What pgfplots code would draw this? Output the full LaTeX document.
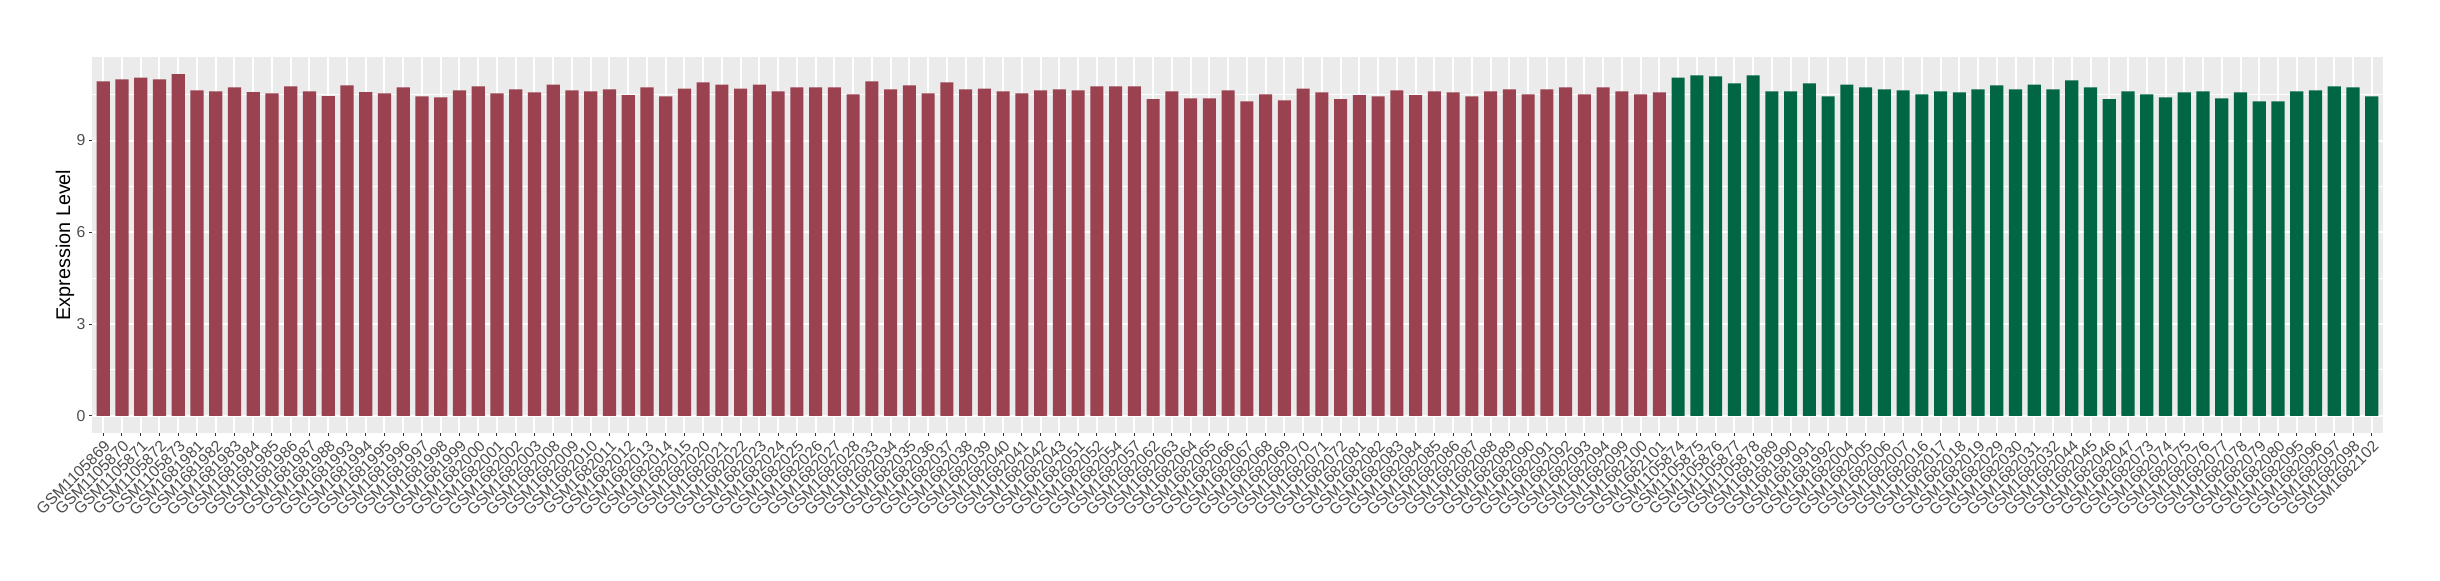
\documentclass[border=0pt]{standalone}
\usepackage{fontspec}
\setmainfont{Liberation Sans}
\usepackage{pgfplots}
\pgfplotsset{compat=1.18}
\definecolor{barred}{RGB}{155,66,81}
\definecolor{bargreen}{RGB}{0,102,68}
\definecolor{panelbg}{RGB}{235,235,235}
\definecolor{grey30}{RGB}{77,77,77}
\definecolor{grey20}{RGB}{51,51,51}
\begin{document}
\begin{tikzpicture}
\begin{axis}[
  at={(0,0)}, anchor=south west,
  scale only axis,
  width=1145.5pt, height=188pt,
  xmin=0.4, xmax=122.6,
  ymin=-0.56, ymax=11.73,
  separate axis lines,
  axis line style={draw=none},
  axis background/.style={fill=panelbg},
  xtick pos=bottom, ytick pos=left,
  xtick={1,...,122},
  xticklabels={GSM1105869,GSM1105870,GSM1105871,GSM1105872,GSM1105873,GSM1681981,GSM1681982,GSM1681983,GSM1681984,GSM1681985,GSM1681986,GSM1681987,GSM1681988,GSM1681993,GSM1681994,GSM1681995,GSM1681996,GSM1681997,GSM1681998,GSM1681999,GSM1682000,GSM1682001,GSM1682002,GSM1682003,GSM1682008,GSM1682009,GSM1682010,GSM1682011,GSM1682012,GSM1682013,GSM1682014,GSM1682015,GSM1682020,GSM1682021,GSM1682022,GSM1682023,GSM1682024,GSM1682025,GSM1682026,GSM1682027,GSM1682028,GSM1682033,GSM1682034,GSM1682035,GSM1682036,GSM1682037,GSM1682038,GSM1682039,GSM1682040,GSM1682041,GSM1682042,GSM1682043,GSM1682051,GSM1682052,GSM1682054,GSM1682057,GSM1682062,GSM1682063,GSM1682064,GSM1682065,GSM1682066,GSM1682067,GSM1682068,GSM1682069,GSM1682070,GSM1682071,GSM1682072,GSM1682081,GSM1682082,GSM1682083,GSM1682084,GSM1682085,GSM1682086,GSM1682087,GSM1682088,GSM1682089,GSM1682090,GSM1682091,GSM1682092,GSM1682093,GSM1682094,GSM1682099,GSM1682100,GSM1682101,GSM1105874,GSM1105875,GSM1105876,GSM1105877,GSM1105878,GSM1681989,GSM1681990,GSM1681991,GSM1681992,GSM1682004,GSM1682005,GSM1682006,GSM1682007,GSM1682016,GSM1682017,GSM1682018,GSM1682019,GSM1682029,GSM1682030,GSM1682031,GSM1682032,GSM1682044,GSM1682045,GSM1682046,GSM1682047,GSM1682073,GSM1682074,GSM1682075,GSM1682076,GSM1682077,GSM1682078,GSM1682079,GSM1682080,GSM1682095,GSM1682096,GSM1682097,GSM1682098,GSM1682102},
  ytick={0,3,6,9},
  minor ytick={1.5,4.5,7.5,10.5},
  xmajorgrids, ymajorgrids, yminorgrids,
  major grid style={white, line width=1pt},
  minor grid style={white, line width=0.5pt},
  tick align=outside,
  major tick length=1.6pt,
  minor tick length=0pt,
  tick style={grey20, line width=0.5pt},
  /pgf/number format/assume math mode=true,
  y tick label style={font=\fontsize{7.9}{9}\selectfont, text=grey30, inner sep=1.5pt},
  x tick label style={font=\fontsize{7.9}{9}\selectfont, text=grey30, rotate=45, anchor=north east, inner sep=1pt},
  ylabel={Expression Level},
  y label style={at={(axis description cs:-0.01178,0.5)}, anchor=center, font=\fontsize{9.9}{11}\selectfont},
  ybar, bar width=0.7, bar shift=0pt,
]
\addplot[ybar, bar width=0.7, bar shift=0pt, fill=barred, draw=none] coordinates {
(1,10.93) (2,11.00) (3,11.06) (4,11.00) (5,11.17) (6,10.64) (7,10.61) (8,10.74) (9,10.58) (10,10.54)
(11,10.77) (12,10.61) (13,10.45) (14,10.80) (15,10.58) (16,10.54) (17,10.74) (18,10.44) (19,10.41) (20,10.64)
(21,10.77) (22,10.54) (23,10.67) (24,10.57) (25,10.83) (26,10.64) (27,10.61) (28,10.67) (29,10.48) (30,10.74)
(31,10.44) (32,10.70) (33,10.90) (34,10.83) (35,10.70) (36,10.83) (37,10.61) (38,10.74) (39,10.74) (40,10.74)
(41,10.51) (42,10.93) (43,10.67) (44,10.80) (45,10.54) (46,10.90) (47,10.67) (48,10.70) (49,10.61) (50,10.54)
(51,10.64) (52,10.67) (53,10.64) (54,10.77) (55,10.77) (56,10.77) (57,10.35) (58,10.61) (59,10.38) (60,10.38)
(61,10.64) (62,10.28) (63,10.51) (64,10.31) (65,10.70) (66,10.57) (67,10.35) (68,10.48) (69,10.44) (70,10.64)
(71,10.48) (72,10.61) (73,10.57) (74,10.44) (75,10.61) (76,10.67) (77,10.51) (78,10.67) (79,10.74) (80,10.51)
(81,10.74) (82,10.61) (83,10.51) (84,10.57)
};
\addplot[ybar, bar width=0.7, bar shift=0pt, fill=bargreen, draw=none] coordinates {
(85,11.06) (86,11.13) (87,11.10) (88,10.87) (89,11.13) (90,10.61) (91,10.61) (92,10.87) (93,10.44) (94,10.83)
(95,10.74) (96,10.67) (97,10.64) (98,10.51) (99,10.61) (100,10.57) (101,10.67) (102,10.80) (103,10.67) (104,10.83)
(105,10.67) (106,10.97) (107,10.74) (108,10.35) (109,10.61) (110,10.51) (111,10.41) (112,10.57) (113,10.61) (114,10.38)
(115,10.57) (116,10.28) (117,10.28) (118,10.61) (119,10.64) (120,10.77) (121,10.74) (122,10.44)
};
\end{axis}
\pgfresetboundingbox
\path (-46pt,-73.5pt) rectangle (1174pt,216.5pt);
\end{tikzpicture}
\end{document}
